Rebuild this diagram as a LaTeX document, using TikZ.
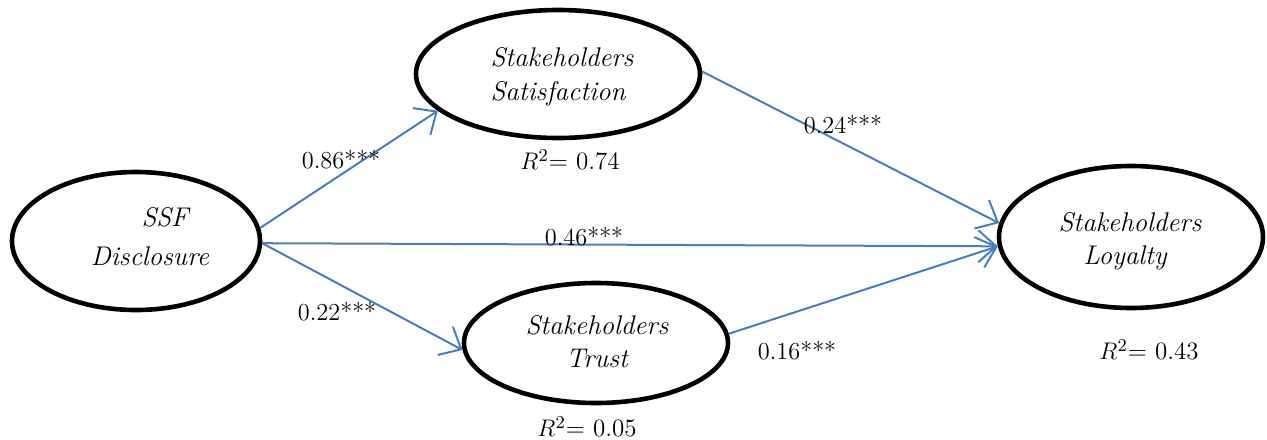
\documentclass[tikz,border=0pt]{standalone}
\usetikzlibrary{shapes.geometric,arrows.meta}
\definecolor{pathblue}{RGB}{74,126,187}
\begin{document}
\begin{tikzpicture}[x=0.5pt,y=-0.5pt,
 latent/.style={ellipse,draw,line width=2.3pt,inner sep=0pt},
 pathline/.style={draw=pathblue,line width=1pt,-{Straight Barb[length=9pt,width=16pt]}},
 lbl/.style={font=\fontsize{13.5}{16}\selectfont\itshape,inner sep=0pt},
 coef/.style={font=\fontsize{12.2}{14}\selectfont,inner sep=0pt},
 rsq/.style={font=\fontsize{12.5}{14}\selectfont,inner sep=0pt}]
\useasboundingbox (0,0) rectangle (1267,439);
% latent variables
\node[latent,minimum width=124pt,minimum height=69pt] (ssf) at (136,241) {};
\node[latent,minimum width=142pt,minimum height=64pt] (sat) at (558,74) {};
\node[latent,minimum width=132pt,minimum height=60pt] (tru) at (596,343) {};
\node[latent,minimum width=132pt,minimum height=71pt] (loy) at (1131,237) {};
% texts
\node[lbl] (ssf1) at (165,217) {SSF};
\node[lbl] (ssf2) at (150,256) {Disclosure};
\node[lbl] (sat1) at (562,57) {Stakeholders};
\node[lbl] (sat2) at (558,94) {Satisfaction};
\node[lbl] (tru1) at (597,325) {Stakeholders};
\node[lbl] (tru2) at (597,358) {Trust};
\node[lbl] (loy1) at (1130,222) {Stakeholders};
\node[lbl] (loy2) at (1125,258) {Loyalty};
% paths
\draw[pathline] (ssf.6) -- (sat.197);
\draw[pathline] (ssf.359) -- (loy.184);
\draw[pathline] (ssf.359) -- (tru.183);
\draw[pathline] (sat.1) -- (loy.174);
\draw[pathline] (tru.4) -- (loy.184);
% coefficients
\node[coef] (c1) at (341,160) {0.86***};
\node[coef] (c2) at (337,312) {0.22***};
\node[coef] (c3) at (843,125) {0.24***};
\node[coef] (c4) at (584,237) {0.46***};
\node[coef] (c5) at (797,351) {0.16***};
% R squared
\node[rsq] (r1) at (570,160) {$R^2$= 0.74};
\node[rsq] (r2) at (587,427) {$R^2$= 0.05};
\node[rsq] (r3) at (1149,350) {$R^2$= 0.43};
\end{tikzpicture}
\end{document}
